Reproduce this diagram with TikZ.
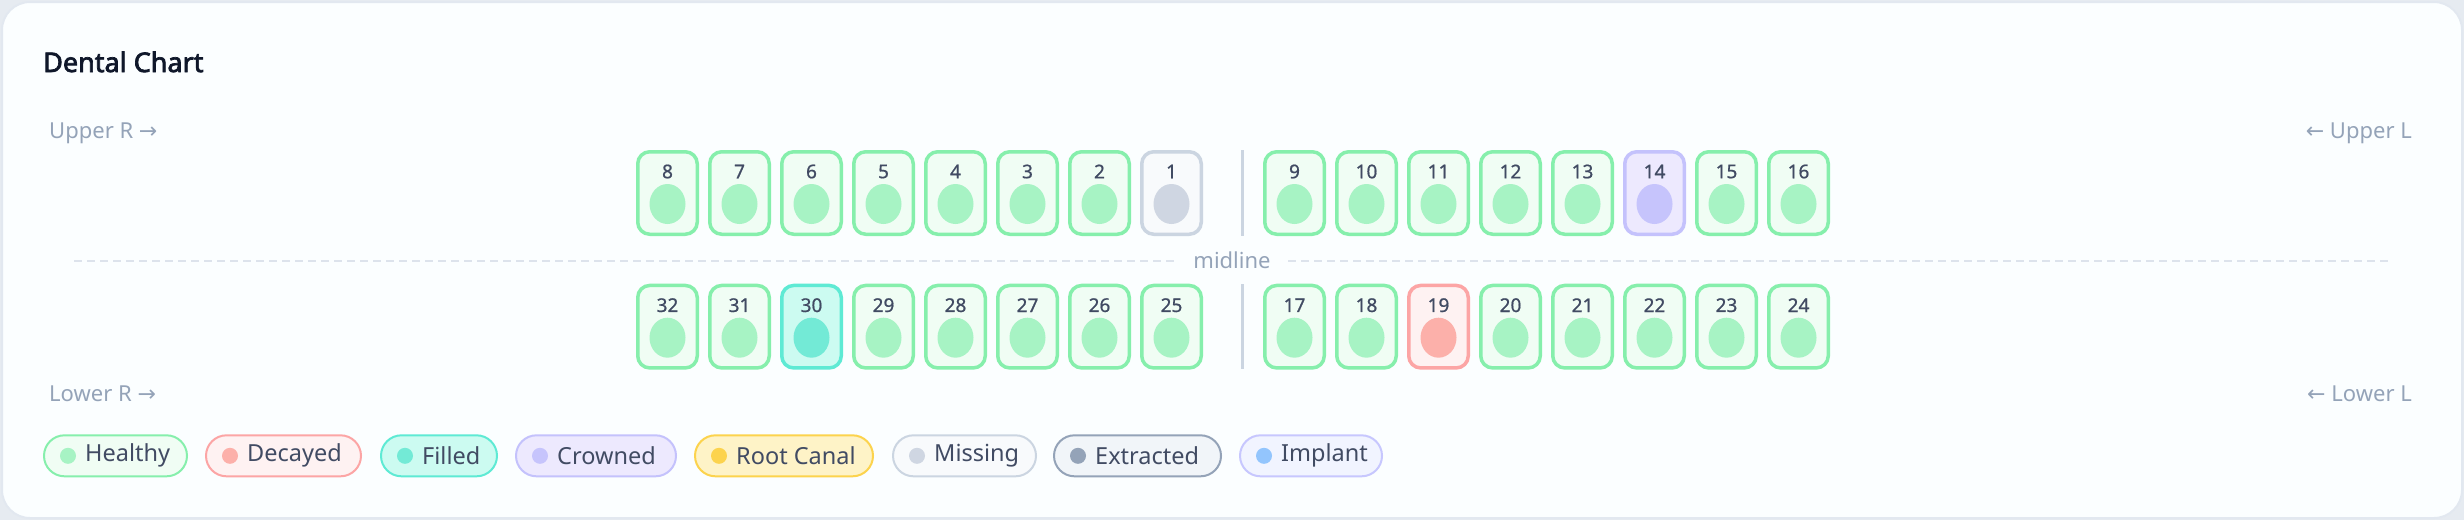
\documentclass[tikz,border=0pt]{standalone}
\usepackage{fontspec}
\setmainfont{Noto Sans}
\newfontfamily\arrowfont{DejaVu Sans}
\newfontfamily\titlefont{Noto Sans}[FakeBold=2.6]
\definecolor{cardbg}{HTML}{FBFEFF}
\definecolor{outerbg}{HTML}{E6EBF1}
\definecolor{cardline}{HTML}{E2E8F0}
\definecolor{dashc}{HTML}{DDE3EC}
\definecolor{titlec}{HTML}{0F172A}
\definecolor{numc}{HTML}{414B63}
\definecolor{labc}{HTML}{94A3B8}
\definecolor{sepc}{HTML}{CBD5E1}
% status colours: stroke / fill / core
\definecolor{hS}{HTML}{86EFAC}\definecolor{hF}{HTML}{F0FDF4}\definecolor{hC}{HTML}{A7F3C4}
\definecolor{dS}{HTML}{FCA5A5}\definecolor{dF}{HTML}{FEF2F2}\definecolor{dC}{HTML}{FCB0AA}
\definecolor{fS}{HTML}{5EEAD4}\definecolor{fF}{HTML}{CCFBF1}\definecolor{fC}{HTML}{73EAD6}
\definecolor{cS}{HTML}{C4C2FC}\definecolor{cF}{HTML}{EDE9FE}\definecolor{cC}{HTML}{C6C4FC}
\definecolor{rS}{HTML}{FCD34D}\definecolor{rF}{HTML}{FEF3C7}\definecolor{rC}{HTML}{FCD34D}
\definecolor{mS}{HTML}{CBD5E1}\definecolor{mF}{HTML}{F8FAFC}\definecolor{mC}{HTML}{CFD6E2}
\definecolor{eS}{HTML}{94A3B8}\definecolor{eF}{HTML}{F1F5F9}\definecolor{eC}{HTML}{94A3B8}
\definecolor{iS}{HTML}{C7C7FE}\definecolor{iF}{HTML}{F1F4FF}\definecolor{iC}{HTML}{93C5FD}
\tikzset{
  toothbox/.style={draw=#1S, fill=#1F, line width=3.5pt, rounded corners=12pt,
    minimum width=59.5pt, minimum height=82.5pt, inner sep=0pt},
  toothnum/.style={font=\fontsize{19}{19}\selectfont\addfontfeature{FakeBold=0.8}, text=numc, inner sep=0pt},
  pill/.style={draw=#1S, fill=#1F, line width=2pt, rounded corners=20.5pt,
    minimum height=41pt, inner sep=0pt, anchor=west},
  pilltext/.style={font=\fontsize{23.5}{23.5}\selectfont, text=numc, anchor=west, inner sep=0pt},
  sidelab/.style={font=\fontsize{22}{22}\selectfont, text=labc, inner sep=0pt},
}
\begin{document}
\begin{tikzpicture}[x=1pt,y=-1pt]
\fill[outerbg] (0,0) rectangle (2464,520);
\useasboundingbox (0,0) rectangle (2464,520);
\draw[cardline, fill=cardbg, line width=2pt, rounded corners=28pt] (2,2) rectangle (2462,518);

\node[anchor=base west, font=\fontsize{27}{27}\titlefont, text=titlec, inner sep=0pt] (title) at (43,72) {Dental Chart};

\node[sidelab, anchor=base west] (ur) at (49,138) {Upper R {\arrowfont →}};
\node[sidelab, anchor=base east] (ul) at (2412,138) {{\arrowfont ←} Upper L};
\node[sidelab, anchor=base west] (lr) at (49,401) {Lower R {\arrowfont →}};
\node[sidelab, anchor=base east] (ll) at (2412,401) {{\arrowfont ←} Lower L};

% midline
\node[font=\fontsize{22}{22}\selectfont, text=labc, inner sep=0pt] (mid) at (1232,260) {midline};
\coordinate (mlL) at (74,261);
\coordinate (mlR) at (2390,261);
\coordinate (gapL) at (1176,261);
\coordinate (gapR) at (1288,261);
\draw[dashc, line width=1.6pt, dash pattern=on 8pt off 5pt] (mlL) -- (gapL);
\draw[dashc, line width=1.6pt, dash pattern=on 8pt off 5pt] (gapR) -- (mlR);

% separators
\coordinate (s1) at (1242,150); \coordinate (s2) at (1242,236);
\coordinate (s3) at (1242,284); \coordinate (s4) at (1242,369);
\draw[sepc, line width=3pt] (s1) -- (s2);
\draw[sepc, line width=3pt] (s3) -- (s4);

% teeth
\foreach \n/\i/\st in {8/0/h,7/1/h,6/2/h,5/3/h,4/4/h,3/5/h,2/6/h,1/7/m}{
  \node[toothbox=\st] (t\n) at (667.5+72*\i,193) {};
}
\foreach \n/\i/\st in {9/0/h,10/1/h,11/2/h,12/3/h,13/4/h,14/5/c,15/6/h,16/7/h}{
  \node[toothbox=\st] (t\n) at (1294.5+72*\i,193) {};
}
\foreach \n/\i/\st in {32/0/h,31/1/h,30/2/f,29/3/h,28/4/h,27/5/h,26/6/h,25/7/h}{
  \node[toothbox=\st] (t\n) at (667.5+72*\i,326.7) {};
}
\foreach \n/\i/\st in {17/0/h,18/1/h,19/2/d,20/3/h,21/4/h,22/5/h,23/6/h,24/7/h}{
  \node[toothbox=\st] (t\n) at (1294.5+72*\i,326.7) {};
}
\foreach \n/\st in {1/m,2/h,3/h,4/h,5/h,6/h,7/h,8/h,9/h,10/h,11/h,12/h,13/h,14/c,15/h,16/h,
                    17/h,18/h,19/d,20/h,21/h,22/h,23/h,24/h,25/h,26/h,27/h,28/h,29/h,30/f,31/h,32/h}{
  \fill[\st C] ([yshift=-11pt]t\n.center) ellipse (18pt and 20pt);
  \node[toothnum] (n\n) at ([yshift=21.5pt]t\n.center) {\n};
}

% legend
\foreach \k/\lx/\w/\txt in {h/43/143/Healthy,d/205/155/Decayed,f/380/116/Filled,c/515/160/Crowned,
                             r/694/178/Root Canal,m/892/143/Missing,e/1053/167/Extracted,i/1239/142/Implant}{
  \node[pill=\k, minimum width=\w pt] (p\k) at (\lx,455.8) {};
  \fill[\k C] ([xshift=25pt]p\k.west) circle (8pt);
  \node[pilltext] (pt\k) at ([xshift=42pt]p\k.west) {\txt};
}
\end{tikzpicture}
\end{document}
